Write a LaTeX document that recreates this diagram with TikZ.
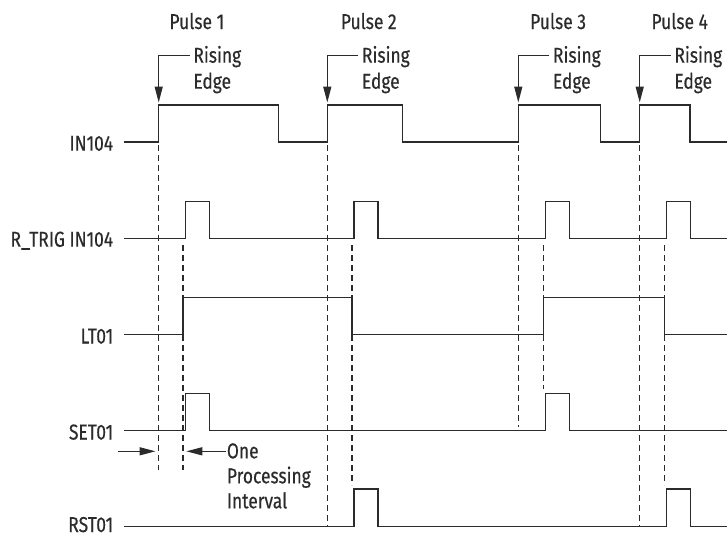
\documentclass[tikz,border=0pt]{standalone}
\usepackage{fontspec}
\setmainfont{Fira Sans}[FakeStretch=0.81,FakeBold=0.4]
\usetikzlibrary{arrows.meta}
\definecolor{ink}{HTML}{2B2B2B}
\begin{document}
\begin{tikzpicture}[x=1pt,y=-1pt,
  wave/.style={draw=ink,line width=1.4pt,line join=miter},
  guide/.style={draw=ink,line width=1.2pt,dash pattern=on 6pt off 4pt},
  arr/.style={draw=ink,line width=1.4pt,-{Triangle[length=16pt,width=8pt]}},
  lbl/.style={inner sep=0pt,text height=14pt,text depth=0pt,font=\fontsize{21.5}{26}\selectfont,text=ink},
]
\useasboundingbox (0,0) rectangle (727,536);

% signal names
\node[lbl,anchor=east] (in) at (113.3,143.7) {IN104};
\node[lbl,anchor=east] (rt) at (113.3,239.7) {R\_TRIG IN104};
\node[lbl,anchor=east] (lt) at (113.3,336.5) {LT01};
\node[lbl,anchor=east] (set) at (113.3,432.5) {SET01};
\node[lbl,anchor=east] (rst) at (113.3,525) {RST01};

% pulse titles
\node[lbl,anchor=west] (p1) at (169.3,22) {Pulse 1};
\node[lbl,anchor=west] (p2) at (340.7,22) {Pulse 2};
\node[lbl,anchor=west] (p3) at (530,22) {Pulse 3};
\node[lbl,anchor=west] (p4) at (651.3,22) {Pulse 4};

% rising edge notes
\foreach \n/\e in {1/158.7,2/327.3,3/518.3,4/639.7}{
  \node[lbl,anchor=west] (ra\n) at (\e+34.5,55.7) {Rising};
  \node[lbl,anchor=west] (rb\n) at (\e+34.5,81.7) {Edge};
  \coordinate (tip\n) at (\e,102.5);
  \draw[arr] ([xshift=-3.5pt]ra\n.west) -| (tip\n);
}

% waveforms
\draw[wave] (124,142) -- (158.7,142) -- (158.7,105) -- (278.7,105) -- (278.7,142)
  -- (327.3,142) -- (327.3,105) -- (402.3,105) -- (402.3,142)
  -- (518.3,142) -- (518.3,105) -- (600.7,105) -- (600.7,142)
  -- (639.7,142) -- (639.7,105) -- (690,105) -- (690,142) -- (727,142);
\draw[wave] (124,238.7) -- (185.3,238.7) -- (185.3,201.3) -- (209.3,201.3) -- (209.3,238.7)
  -- (354,238.7) -- (354,201.3) -- (378,201.3) -- (378,238.7)
  -- (545.3,238.7) -- (545.3,201.3) -- (569.3,201.3) -- (569.3,238.7)
  -- (666.3,238.7) -- (666.3,201.3) -- (690.3,201.3) -- (690.3,238.7) -- (727,238.7);
\draw[wave] (124,334.7) -- (183,334.7) -- (183,297.3) -- (352,297.3) -- (352,334.7)
  -- (543.3,334.7) -- (543.3,297.3) -- (664.3,297.3) -- (664.3,334.7) -- (727,334.7);
\draw[wave] (124,430.7) -- (185.3,430.7) -- (185.3,393.3) -- (209.3,393.3) -- (209.3,430.7)
  -- (545.3,430.7) -- (545.3,393.3) -- (569.3,393.3) -- (569.3,430.7) -- (727,430.7);
\draw[wave] (124,526.3) -- (354,526.3) -- (354,489) -- (378,489) -- (378,526.3)
  -- (666.3,526.3) -- (666.3,489) -- (690.3,489) -- (690.3,526.3) -- (727,526.3);

% dashed guides
\draw[guide] (158.7,145) -- (158.7,470);
\draw[guide] (183,245) -- (183,470);
\draw[guide] (327.3,145) -- (327.3,526);
\draw[guide] (352,245) -- (352,485);
\draw[guide] (518.3,145) -- (518.3,427);
\draw[guide] (543.3,245) -- (543.3,389);
\draw[guide] (639.7,145) -- (639.7,526);
\draw[guide] (664.3,245) -- (664.3,485);

% processing interval
\node[lbl,anchor=west] (one) at (226.7,451.3) {One};
\node[lbl,anchor=west] (proc) at (226.7,476.3) {Processing};
\node[lbl,anchor=west] (intv) at (226.7,501.3) {Interval};
\coordinate (pl) at (118,451.3);
\coordinate (plt) at (155.5,451.3);
\coordinate (prt) at (186.3,451.3);
\draw[arr] (pl) -- (plt);
\draw[arr] ([xshift=-1pt]one.west) -- (prt);
\end{tikzpicture}
\end{document}
